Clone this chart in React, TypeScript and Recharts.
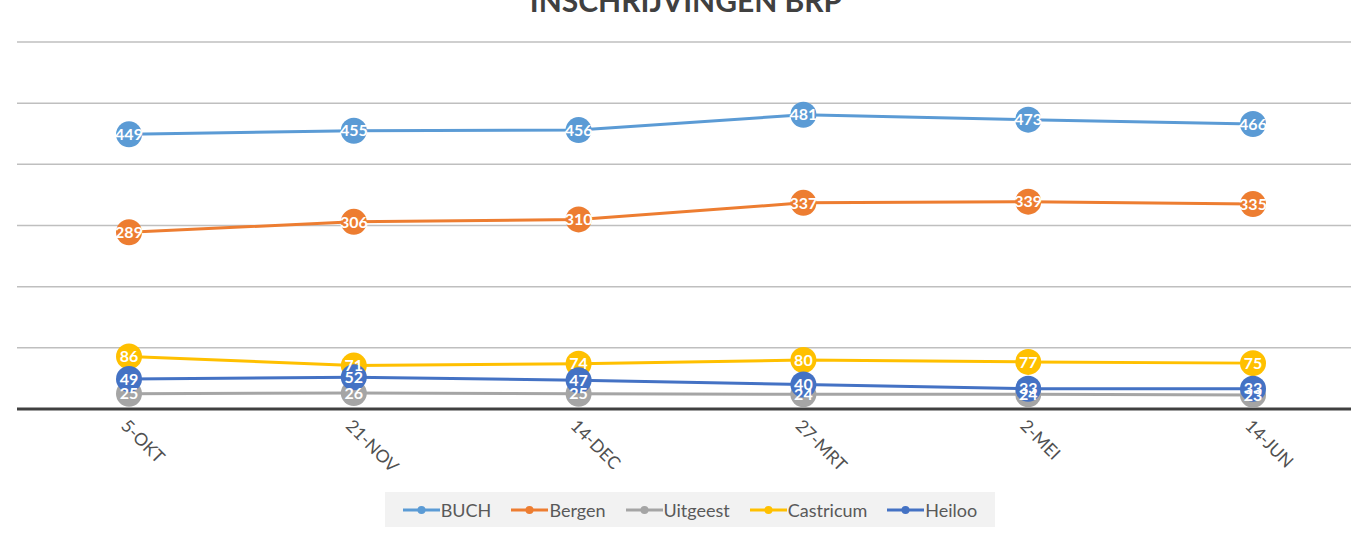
import React from "react";
import { LineChart, Line, XAxis, YAxis, CartesianGrid, Legend, LabelList } from "recharts";

const categories = ["5-OKT", "21-NOV", "14-DEC", "27-MRT", "2-MEI", "14-JUN"];
const buch = [449, 455, 456, 481, 473, 466];
const bergen = [289, 306, 310, 337, 339, 335];
const uitgeest = [25, 26, 25, 24, 24, 23];
const castricum = [86, 71, 74, 80, 77, 75];
const heiloo = [49, 52, 47, 40, 33, 33];
const yTicks = [0, 100, 200, 300, 400, 500, 600];

const seriesDefs = [
  { key: "BUCH", values: buch, color: "#5B9BD5" },
  { key: "Bergen", values: bergen, color: "#ED7D31" },
  { key: "Uitgeest", values: uitgeest, color: "#A5A5A5" },
  { key: "Castricum", values: castricum, color: "#FFC000" },
  { key: "Heiloo", values: heiloo, color: "#4472C4" },
];

const data = categories.map((c, i) => {
  const row: Record<string, string | number> = { name: c };
  seriesDefs.forEach((s) => (row[s.key] = s.values[i]));
  return row;
});

const FONT = "Lato, 'Open Sans', sans-serif";

const Tick = (props: any) => {
  const { x, y, payload } = props;
  return (
    <text
      x={x - 9}
      y={y + 10}
      transform={`rotate(45 ${x - 9} ${y + 10})`}
      textAnchor="start"
      fontSize={17.5}
      fontFamily={FONT}
      fill="#505050"
    >
      {payload.value}
    </text>
  );
};

const LegendContent = () => (
  <div
    style={{
      background: "#f2f2f2",
      width: 610,
      height: 35,
      display: "flex",
      alignItems: "center",
      justifyContent: "center",
      fontFamily: FONT,
      fontSize: 18,
      color: "#595959",
      gap: 20,
    }}
  >
    {seriesDefs.map((s) => (
      <div key={s.key} style={{ display: "flex", alignItems: "center" }}>
        <svg width={37} height={12} style={{ marginRight: 1 }}>
          <line x1={0} y1={6} x2={37} y2={6} stroke={s.color} strokeWidth={3} />
          <circle cx={18.5} cy={6} r={4} fill={s.color} />
        </svg>
        <span>{s.key}</span>
      </div>
    ))}
  </div>
);

export default function App() {
  return (
    <div style={{ position: "absolute", left: 0, top: 0, width: 1351, height: 533, overflow: "hidden", background: "#fff" }}>
      <svg width={1351} height={40} style={{ position: "absolute", left: 0, top: 0, zIndex: 2 }}>
        <text x={686} y={12} textAnchor="middle" fontFamily={FONT} fontWeight={700} fontSize={30} fill="#404040">
          INSCHRIJVINGEN BRP
        </text>
      </svg>
      <LineChart
        width={1370}
        height={533}
        data={data}
        margin={{ top: 42, right: 5, left: 17, bottom: 0 }}
      >
        <CartesianGrid horizontal vertical={false} stroke="#bfbfbf" strokeWidth={1.5} />
        <XAxis
          dataKey="name"
          axisLine={{ stroke: "#404040", strokeWidth: 3 }}
          tickLine={false}
          tick={<Tick />}
          height={89}
          interval={0}
          padding={{ left: 112, right: 112 }}
        />
        <YAxis hide domain={[0, 600]} ticks={yTicks} />
        <Legend
          content={<LegendContent />}
          wrapperStyle={{ position: "absolute", left: 385, top: 492, width: 610, height: 35 }}
        />
        {seriesDefs.map((s) => (
          <Line
            key={s.key}
            dataKey={s.key}
            stroke={s.color}
            strokeWidth={3}
            dot={{ r: 13, fill: s.color, stroke: s.color, strokeWidth: 0 }}
            isAnimationActive={false}
          >
            <LabelList
              dataKey={s.key}
              position="center"
              fill="#fff"
              fontSize={16}
              fontWeight={700}
              fontFamily={FONT}
            />
          </Line>
        ))}
      </LineChart>
    </div>
  );
}
